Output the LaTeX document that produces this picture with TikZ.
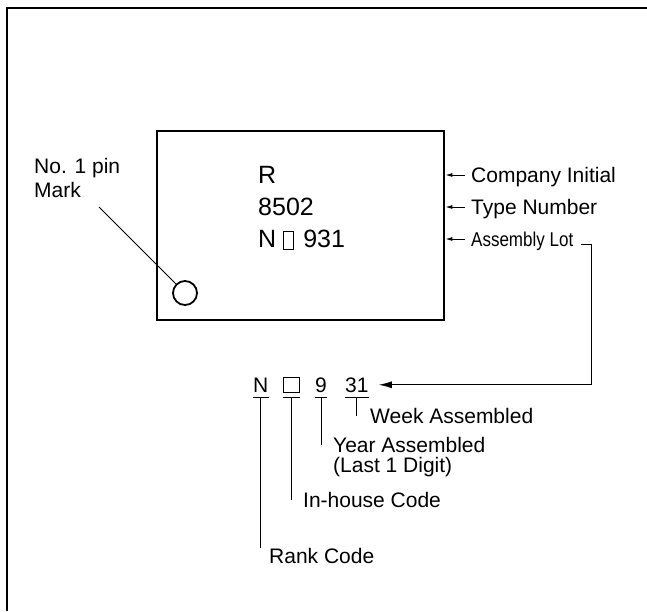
\documentclass[tikz,border=0pt]{standalone}
\usepackage{fontspec}
\setmainfont{Liberation Sans}
\usetikzlibrary{arrows.meta}
\newcommand\tofu{\raisebox{-2pt}{\setlength\fboxsep{0pt}\setlength\fboxrule{1pt}\fbox{\rule{0pt}{17pt}\rule{9pt}{0pt}}}}
\begin{document}
\begin{tikzpicture}[x=1pt,y=-1pt]
\def\ul{397}
\tikzset{lbl/.style={font=\fontsize{21}{24}\selectfont,inner sep=0pt,anchor=base west},
chiptxt/.style={lbl,font=\fontsize{25}{30}\selectfont},
lead/.style={line width=1pt},
tagarrow/.style={lead,{Latex[length=7pt,width=4pt]}-},
lotarrow/.style={lead,-{Latex[length=13pt,width=7pt]}}}
\useasboundingbox (0,0) rectangle (647,611);
\draw[line width=2pt] (7,611) -- (7,8) -- (647,8);
\node[draw,line width=2.7pt,minimum width=287pt,minimum height=189pt] (chip) at (300.5,225.5) {};
\node[chiptxt] (R) at (258,183) {R};
\node[chiptxt] (type) at (258,215) {8502};
\node[chiptxt] (lot) at (258,247) {N\hspace{7pt}\tofu\hspace{9pt}931};
\node[circle,draw,line width=1.8pt,minimum size=24pt,inner sep=0pt] (pin) at (185,293) {};
\node[lbl] (pinlbl) at (34,173) {No. 1 pin};
\node[lbl] (pinlblb) at (34,197) {Mark};
\coordinate (pintail) at (99,207);
\draw[lead] (pintail) -- (pin);
\node[lbl] (ci) at (471,182.5) {Company Initial};
\node[lbl] (tn) at (471,214.5) {Type Number};
\node[lbl,font=\fontsize{20}{24}\selectfont] (al) at (471,246.5) {\scalebox{0.85}[1]{Assembly Lot}};
\foreach \n in {ci,tn,al} {
  \coordinate (\n-a) at ([xshift=-6pt,yshift=7.5pt]\n.base west);
  \draw[tagarrow] (chip.east |- \n-a) -- (\n-a);
}
\node[lbl] (dN) at (253,392) {N};
\node[draw,line width=1pt,minimum width=16pt,minimum height=15pt,inner sep=0pt] (dbox) at (291,384.5) {};
\node[lbl] (d9) at (315,392) {9};
\node[lbl] (d31) at (345,392) {31};
\coordinate (lotend) at ([xshift=8pt,yshift=2.5pt]al.base east);
\draw[lotarrow] (lotend) -- ++(10,0) |- ([xshift=10pt]d31.east);
\node[lbl] (wk) at (370,423) {Week Assembled};
\node[lbl] (yr) at (333,452) {Year Assembled};
\node[lbl] (yrb) at (333,472) {(Last 1 Digit)};
\node[lbl] (inh) at (303,507) {In-house Code};
\node[lbl] (rank) at (269,563) {Rank Code};
\coordinate (ulrow) at (0,\ul);
\foreach \d in {dN,dbox,d9,d31}
  \draw[lead] (\d.west |- ulrow) -- (\d.east |- ulrow);
\foreach \d/\t in {dN/rank.north,dbox/inh.west,d9/yr.west,d31/wk.west}
  \draw[lead] (\d |- ulrow) -- (\d |- \t);
\end{tikzpicture}
\end{document}
